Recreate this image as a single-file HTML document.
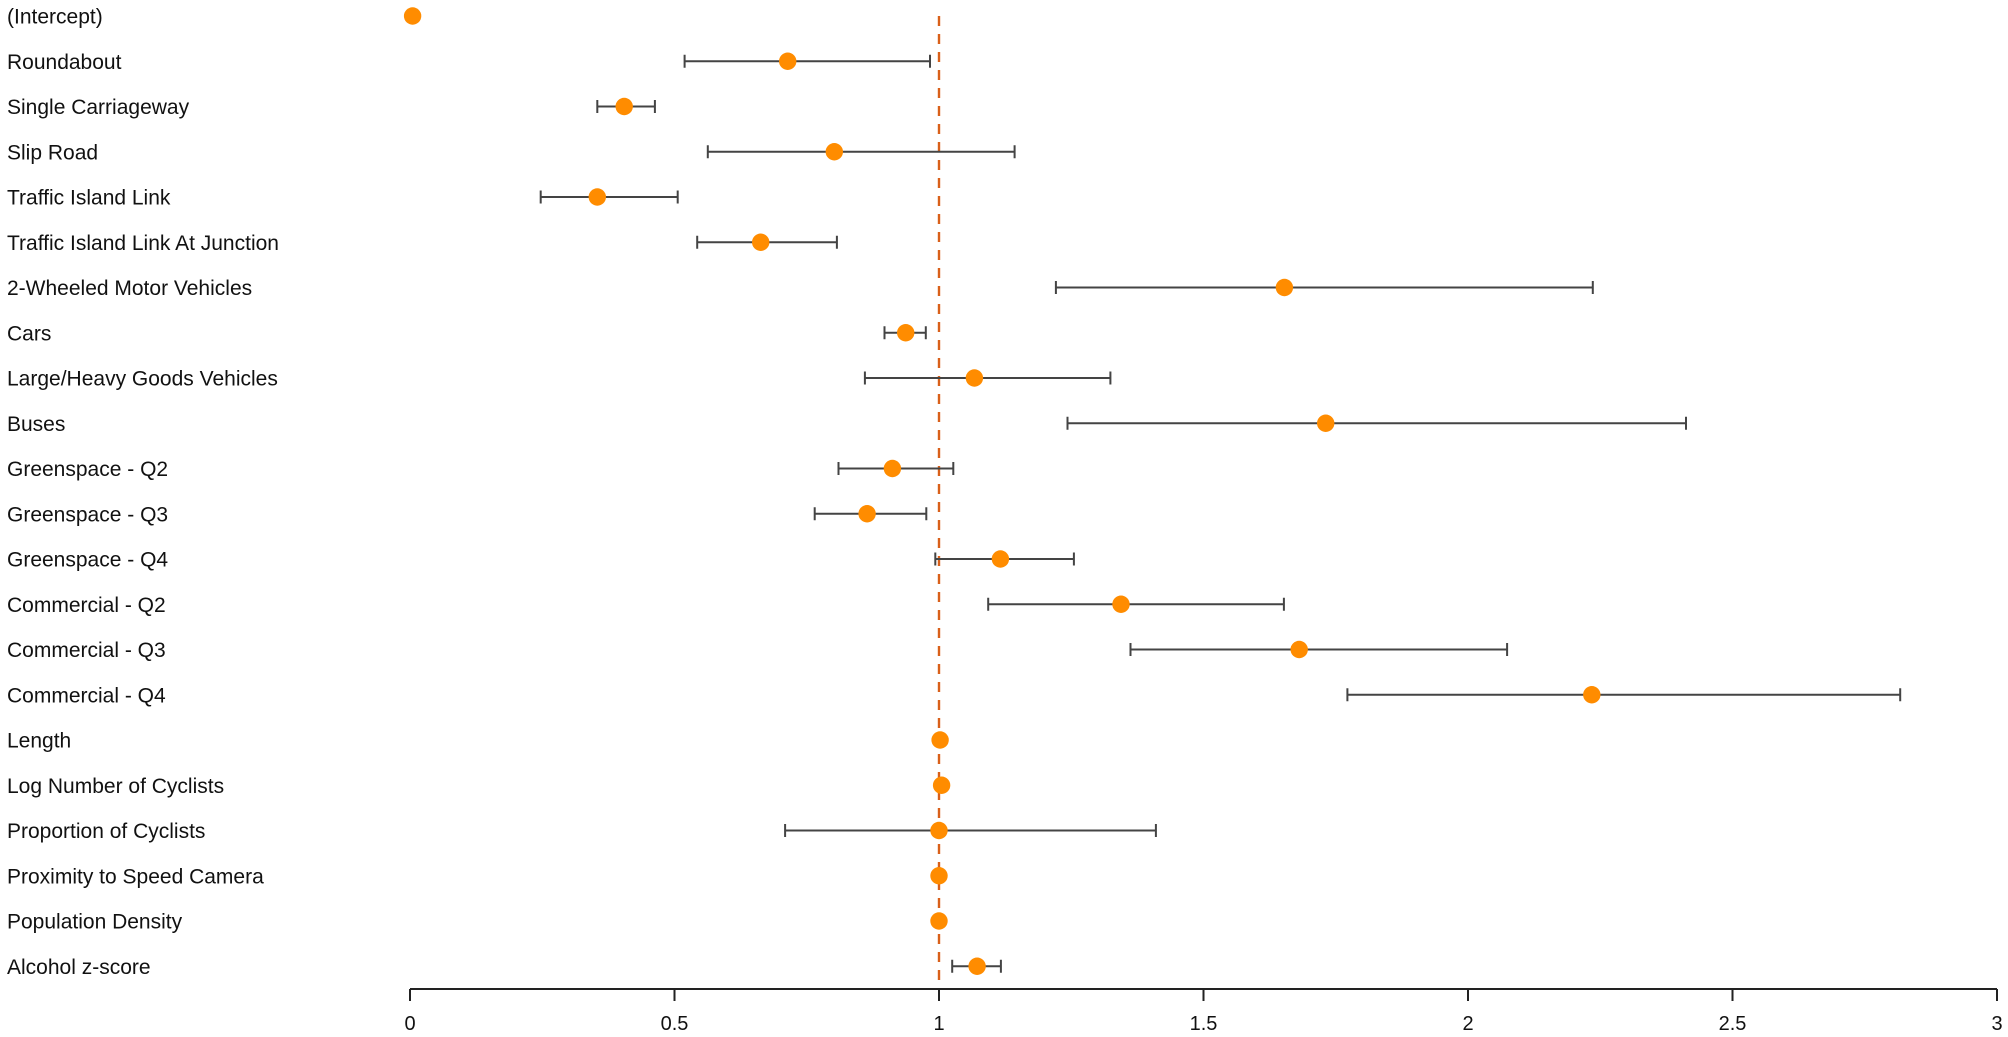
<!DOCTYPE html>
<html><head><meta charset="utf-8"><style>
html,body{margin:0;padding:0;background:#fff;}
svg{display:block;}
text{font-family:"Liberation Sans",Arial,sans-serif;fill:#111;font-size:21px;}
.t{font-size:20px;text-anchor:middle;}
.e{stroke:#444;stroke-width:2;fill:none;}
.d{fill:#FF8C00;}
</style></head><body>
<svg width="2008" height="1037" viewBox="0 0 2008 1037" xmlns="http://www.w3.org/2000/svg">
<line x1="939" y1="16" x2="939" y2="989" stroke="#D9601A" stroke-width="2.4" stroke-dasharray="10,8"/>

<text x="7" y="23.5">(Intercept)</text>
<text x="7" y="68.75">Roundabout</text>
<text x="7" y="114">Single Carriageway</text>
<text x="7" y="159.25">Slip Road</text>
<text x="7" y="204.5">Traffic Island Link</text>
<text x="7" y="249.75">Traffic Island Link At Junction</text>
<text x="7" y="295">2-Wheeled Motor Vehicles</text>
<text x="7" y="340.25">Cars</text>
<text x="7" y="385.5">Large/Heavy Goods Vehicles</text>
<text x="7" y="430.75">Buses</text>
<text x="7" y="476">Greenspace - Q2</text>
<text x="7" y="521.25">Greenspace - Q3</text>
<text x="7" y="566.5">Greenspace - Q4</text>
<text x="7" y="611.75">Commercial - Q2</text>
<text x="7" y="657">Commercial - Q3</text>
<text x="7" y="702.25">Commercial - Q4</text>
<text x="7" y="747.5">Length</text>
<text x="7" y="792.75">Log Number of Cyclists</text>
<text x="7" y="838">Proportion of Cyclists</text>
<text x="7" y="883.25">Proximity to Speed Camera</text>
<text x="7" y="928.5">Population Density</text>
<text x="7" y="973.75">Alcohol z-score</text>

<path class="e" d="M684.6 61.25H930M684.6 54.75v13M930 54.75v13"/>
<path class="e" d="M597.3 106.5H654.9M597.3 100v13M654.9 100v13"/>
<path class="e" d="M707.8 151.75H1014.6M707.8 145.25v13M1014.6 145.25v13"/>
<path class="e" d="M540.7 197H677.7M540.7 190.5v13M677.7 190.5v13"/>
<path class="e" d="M697.2 242.25H836.9M697.2 235.75v13M836.9 235.75v13"/>
<path class="e" d="M1055.9 287.5H1592.8M1055.9 281v13M1592.8 281v13"/>
<path class="e" d="M884.5 332.75H925.8M884.5 326.25v13M925.8 326.25v13"/>
<path class="e" d="M864.9 378H1110.4M864.9 371.5v13M1110.4 371.5v13"/>
<path class="e" d="M1067.5 423.25H1686M1067.5 416.75v13M1686 416.75v13"/>
<path class="e" d="M838.5 468.5H953.3M838.5 462v13M953.3 462v13"/>
<path class="e" d="M814.7 513.75H926.3M814.7 507.25v13M926.3 507.25v13"/>
<path class="e" d="M935.3 559H1073.9M935.3 552.5v13M1073.9 552.5v13"/>
<path class="e" d="M988.2 604.25H1283.9M988.2 597.75v13M1283.9 597.75v13"/>
<path class="e" d="M1130.5 649.5H1507.1M1130.5 643v13M1507.1 643v13"/>
<path class="e" d="M1347.4 694.75H1900.2M1347.4 688.25v13M1900.2 688.25v13"/>
<path class="e" d="M785.1 830.5H1155.9M785.1 824v13M1155.9 824v13"/>
<path class="e" d="M952.2 966.25H1000.9M952.2 959.75v13M1000.9 959.75v13"/>

<circle class="d" cx="412.6" cy="16" r="8.7"/>
<circle class="d" cx="787.7" cy="61.25" r="8.7"/>
<circle class="d" cx="624.2" cy="106.5" r="8.7"/>
<circle class="d" cx="834.3" cy="151.75" r="8.7"/>
<circle class="d" cx="597.3" cy="197" r="8.7"/>
<circle class="d" cx="760.7" cy="242.25" r="8.7"/>
<circle class="d" cx="1284.4" cy="287.5" r="8.7"/>
<circle class="d" cx="905.7" cy="332.75" r="8.7"/>
<circle class="d" cx="974.4" cy="378" r="8.7"/>
<circle class="d" cx="1325.7" cy="423.25" r="8.7"/>
<circle class="d" cx="892.4" cy="468.5" r="8.7"/>
<circle class="d" cx="867.1" cy="513.75" r="8.7"/>
<circle class="d" cx="1000.4" cy="559" r="8.7"/>
<circle class="d" cx="1121" cy="604.25" r="8.7"/>
<circle class="d" cx="1299.2" cy="649.5" r="8.7"/>
<circle class="d" cx="1591.8" cy="694.75" r="8.7"/>
<circle class="d" cx="940.1" cy="740" r="8.7"/>
<circle class="d" cx="941.6" cy="785.25" r="8.7"/>
<circle class="d" cx="939" cy="830.5" r="8.7"/>
<circle class="d" cx="939" cy="875.75" r="8.7"/>
<circle class="d" cx="939" cy="921" r="8.7"/>
<circle class="d" cx="977.1" cy="966.25" r="8.7"/>

<path d="M410 989H1997M410 989v12M674.5 989v12M939 989v12M1203.5 989v12M1468 989v12M1732.5 989v12M1997 989v12" stroke="#222" stroke-width="2" fill="none"/>
<text class="t" x="410" y="1030">0</text>
<text class="t" x="674.5" y="1030">0.5</text>
<text class="t" x="939" y="1030">1</text>
<text class="t" x="1203.5" y="1030">1.5</text>
<text class="t" x="1468" y="1030">2</text>
<text class="t" x="1732.5" y="1030">2.5</text>
<text class="t" x="1997" y="1030">3</text>
</svg>
</body></html>
